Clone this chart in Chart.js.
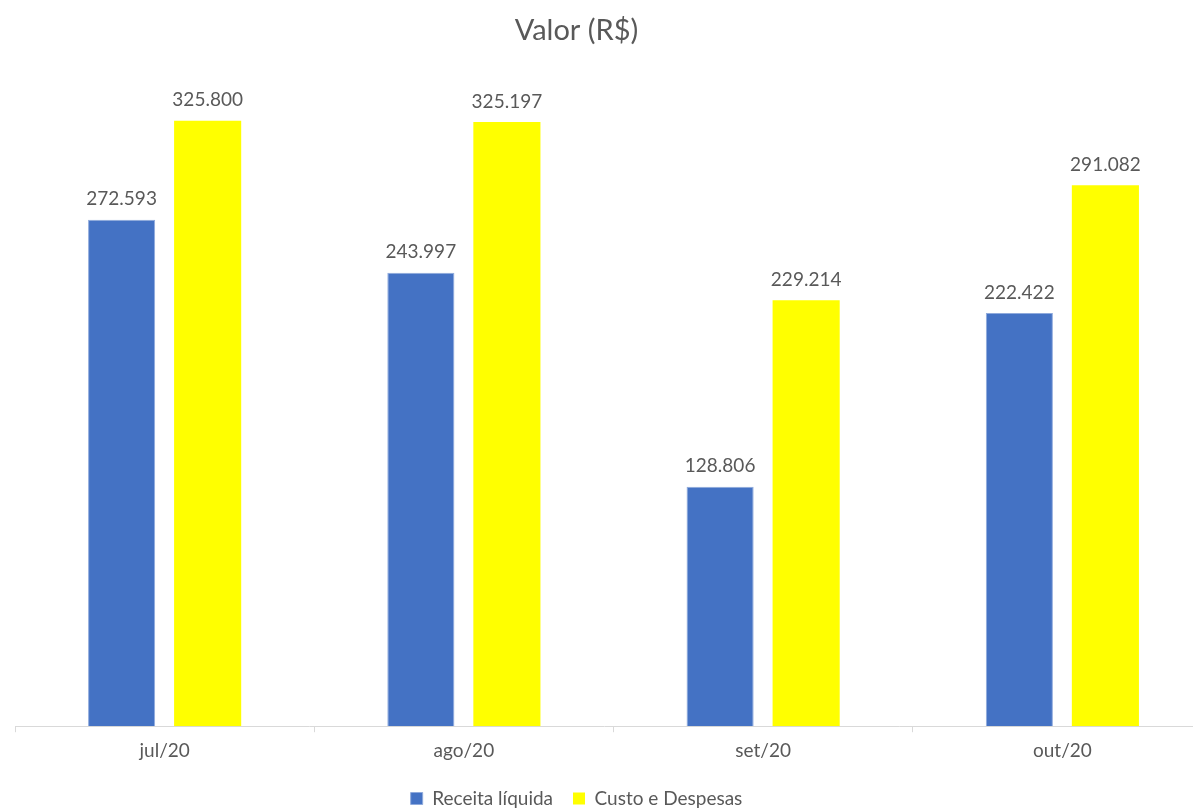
<!DOCTYPE html>
<html><head><meta charset="utf-8">
<script src="https://cdn.jsdelivr.net/npm/chart.js@4"></script>
<style>html,body{margin:0;padding:0;background:#fff;overflow:hidden}#wrap{width:1193px;height:811px;overflow:hidden}</style>
</head><body><div id="wrap"><canvas id="c" width="1193" height="822"></canvas></div>
<script>
const categories = ["jul/20", "ago/20", "set/20", "out/20"];
const receitaLiquida = [272593, 243997, 128806, 222422];
const custoDespesas = [325800, 325197, 229214, 291082];
const seriesNames = ["Receita líquida", "Custo e Despesas"];

const FONT = "Lato, 'Open Sans', sans-serif";
const fmt = v => v.toLocaleString('pt-BR');

const labelPlugin = {
  id: 'labels',
  afterDatasetsDraw(chart) {
    const ctx = chart.ctx;
    ctx.save();
    ctx.font = "19px " + FONT;
    ctx.fillStyle = "#595959";
    ctx.textAlign = "center";
    ctx.textBaseline = "bottom";
    chart.data.datasets.forEach((ds, i) => {
      chart.getDatasetMeta(i).data.forEach((bar, j) => {
        ctx.fillText(fmt(ds.data[j]), bar.x, bar.y - 11);
      });
    });
    ctx.restore();
  }
};

// The reference plot area runs past the right edge of the picture (cropped).
const areaPlugin = {
  id: 'area',
  afterLayout(chart) {
    const L = 15, R = 1212;
    const a = chart.chartArea;
    a.left = L; a.right = R; a.width = R - L;
    const x = chart.scales.x;
    x.left = L; x.right = R; x.width = R - L;
    x.configure();
    const y = chart.scales.y;
    y.left = L; y.right = L;
  }
};

new Chart(document.getElementById('c'), {
  type: 'bar',
  data: {
    labels: categories,
    datasets: [
      { label: seriesNames[0], data: receitaLiquida, backgroundColor: '#4472C4', borderColor: '#8faadc', borderWidth: 1 },
      { label: seriesNames[1], data: custoDespesas, backgroundColor: '#FFFF00', borderWidth: 0 }
    ]
  },
  options: {
    responsive: false,
    animation: false,
    devicePixelRatio: 1,
    categoryPercentage: 0.575,
    barPercentage: 0.78,
    layout: { padding: { left: 0, right: 40, top: 0, bottom: 4 } },
    plugins: {
      title: { display: true, text: 'Valor (R$)', color: '#595959', font: { family: FONT, size: 29, weight: 'normal' }, padding: { top: 13, bottom: 28 } },
      legend: { position: 'bottom', labels: { color: '#595959', font: { family: FONT, size: 19 }, boxWidth: 12, boxHeight: 12, padding: 20 } },
      tooltip: { enabled: false }
    },
    scales: {
      x: {
        grid: { offset: true, drawOnChartArea: false, color: '#d9d9d9', tickLength: 6 },
        border: { color: '#d9d9d9', width: 1 },
        ticks: { color: '#595959', font: { family: FONT, size: 19 }, padding: 7 }
      },
      y: { display: false, min: 0, max: 350000 }
    }
  },
  plugins: [labelPlugin, areaPlugin]
});
</script></body></html>
